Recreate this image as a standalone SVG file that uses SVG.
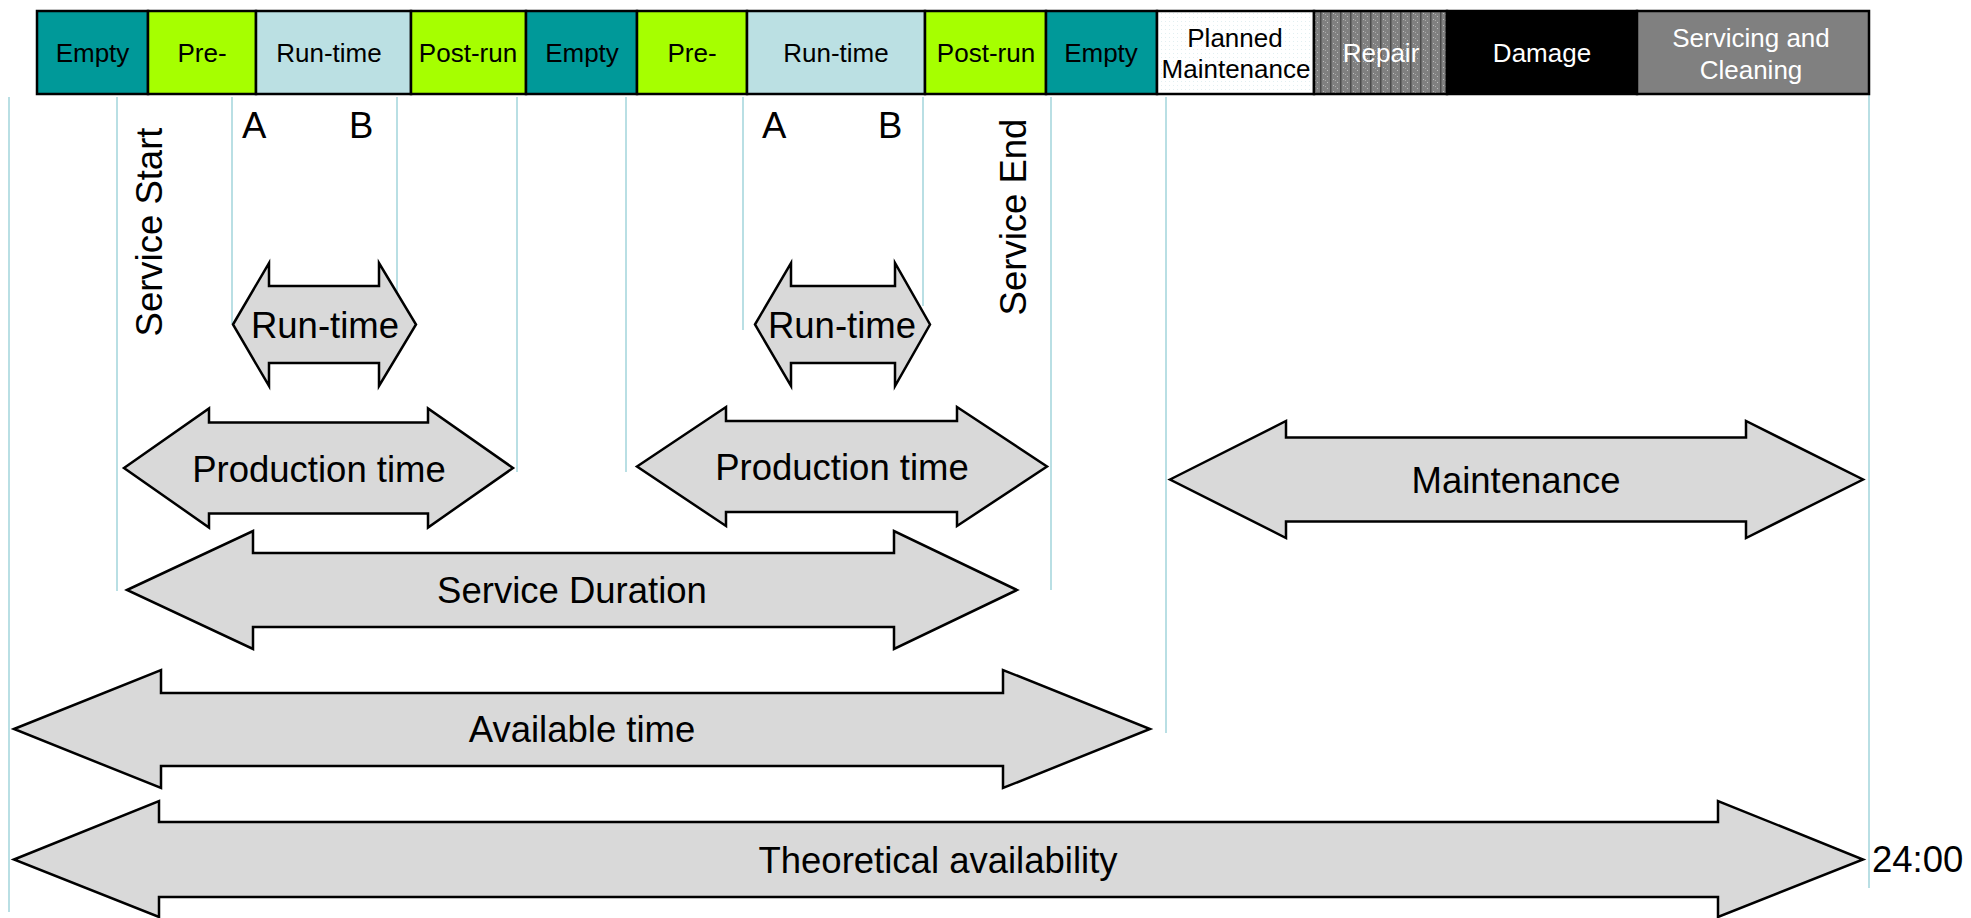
<svg xmlns="http://www.w3.org/2000/svg" width="1971" height="918" viewBox="0 0 1971 918">
<style>
  .seg { stroke: #000; stroke-width: 2.5; }
  .bt { font-family: "Liberation Sans", Arial, sans-serif; font-size: 26px; text-anchor: middle; fill: #000; }
  .wt { fill: #fff; }
  .arr { fill: #d9d9d9; stroke: #000; stroke-width: 2.5; stroke-linejoin: miter; }
  .at { font-family: "Liberation Sans", Arial, sans-serif; font-size: 36.5px; text-anchor: middle; fill: #000; }
  .lt { font-family: "Liberation Sans", Arial, sans-serif; font-size: 36.5px; fill: #000; }
  .gl { stroke: #b9dfe4; stroke-width: 2; fill: none; }
</style>
<defs>
  <pattern id="pRepair" width="10" height="6" patternUnits="userSpaceOnUse">
    <rect width="10" height="6" fill="#808080"/>
    <rect x="0" y="0" width="1.5" height="6" fill="#4a4a4a"/>
    <rect x="3" y="1" width="1" height="1" fill="#c0c0c0"/>
    <rect x="7" y="4" width="1" height="1" fill="#c0c0c0"/>
    <rect x="5" y="2" width="1" height="1" fill="#a8a8a8"/>
  </pattern>
  <pattern id="pPlanned" width="4" height="4" patternUnits="userSpaceOnUse">
    <rect width="4" height="4" fill="#ffffff"/>
    <rect x="1" y="1" width="1" height="1" fill="#e2eff1"/>
  </pattern>
</defs>
<rect width="1971" height="918" fill="#ffffff"/>

<g id="connectors">
  <line class="gl" x1="9" y1="97" x2="9" y2="912"/>
  <line class="gl" x1="117" y1="97" x2="117" y2="591"/>
  <line class="gl" x1="232" y1="97" x2="232" y2="324"/>
  <line class="gl" x1="397" y1="97" x2="397" y2="292"/>
  <line class="gl" x1="517" y1="97" x2="517" y2="472"/>
  <line class="gl" x1="626" y1="97" x2="626" y2="472"/>
  <line class="gl" x1="743" y1="97" x2="743" y2="330"/>
  <line class="gl" x1="923" y1="97" x2="923" y2="306"/>
  <line class="gl" x1="1051" y1="97" x2="1051" y2="590"/>
  <line class="gl" x1="1166" y1="97" x2="1166" y2="733"/>
  <line class="gl" x1="1869" y1="94" x2="1869" y2="888"/>
</g>

<g id="bar-empty-1"><rect class="seg" x="37" y="11" width="111" height="83" fill="#009999"/><text class="bt" x="92.5" y="62">Empty</text></g>
<g id="bar-pre-1"><rect class="seg" x="148" y="11" width="108" height="83" fill="#a6ff00"/><text class="bt" x="202" y="62">Pre-</text></g>
<g id="bar-run-1"><rect class="seg" x="256" y="11" width="155" height="83" fill="#bbe0e3"/><text class="bt" x="329" y="62">Run-time</text></g>
<g id="bar-post-1"><rect class="seg" x="411" y="11" width="115" height="83" fill="#a6ff00"/><text class="bt" x="468" y="62">Post-run</text></g>
<g id="bar-empty-2"><rect class="seg" x="526" y="11" width="111" height="83" fill="#009999"/><text class="bt" x="582" y="62">Empty</text></g>
<g id="bar-pre-2"><rect class="seg" x="637" y="11" width="110" height="83" fill="#a6ff00"/><text class="bt" x="692" y="62">Pre-</text></g>
<g id="bar-run-2"><rect class="seg" x="747" y="11" width="178" height="83" fill="#bbe0e3"/><text class="bt" x="836" y="62">Run-time</text></g>
<g id="bar-post-2"><rect class="seg" x="925" y="11" width="121" height="83" fill="#a6ff00"/><text class="bt" x="986" y="62">Post-run</text></g>
<g id="bar-empty-3"><rect class="seg" x="1046" y="11" width="111" height="83" fill="#009999"/><text class="bt" x="1101" y="62">Empty</text></g>
<g id="bar-planned"><rect class="seg" x="1157" y="11" width="157" height="83" fill="url(#pPlanned)"/><text class="bt" x="1235" y="47">Planned</text><text class="bt" x="1236" y="78">Maintenance</text></g>
<g id="bar-repair"><rect class="seg" x="1314" y="11" width="133" height="83" fill="url(#pRepair)"/><text class="bt wt" x="1381" y="62">Repair</text></g>
<g id="bar-damage"><rect class="seg" x="1447" y="11" width="190" height="83" fill="#000000"/><text class="bt wt" x="1542" y="62">Damage</text></g>
<g id="bar-servicing"><rect class="seg" x="1637" y="11" width="232" height="83" fill="#808080" stroke-width="1.5"/><text class="bt wt" x="1751" y="47">Servicing and</text><text class="bt wt" x="1751" y="79">Cleaning</text></g>

<g id="label-service-start"><text class="lt" text-anchor="middle" transform="translate(162 232) rotate(-90)">Service Start</text></g>
<g id="label-service-end"><text class="lt" text-anchor="middle" transform="translate(1026 217) rotate(-90)">Service End</text></g>
<g id="label-a1"><text class="lt" x="242" y="138">A</text></g>
<g id="label-b1"><text class="lt" x="349" y="138">B</text></g>
<g id="label-a2"><text class="lt" x="762" y="138">A</text></g>
<g id="label-b2"><text class="lt" x="878" y="138">B</text></g>

<g id="arrow-runtime-1">
  <polygon class="arr" points="233,324.5 269,263 269,286 379,286 379,263 416,324.5 379,386 379,363 269,363 269,386"/>
  <text class="at" x="325" y="338">Run-time</text>
</g>
<g id="arrow-runtime-2">
  <polygon class="arr" points="755,324.5 791,263 791,286 895,286 895,263 930,324.5 895,386 895,363 791,363 791,386"/>
  <text class="at" x="842" y="338">Run-time</text>
</g>
<g id="arrow-production-1">
  <polygon class="arr" points="124,468 209,408.5 209,422.5 428,422.5 428,408.5 513,468 428,527.5 428,513.5 209,513.5 209,527.5"/>
  <text class="at" x="319" y="482">Production time</text>
</g>
<g id="arrow-production-2">
  <polygon class="arr" points="637,466.5 726,407 726,421 957,421 957,407 1047,466.5 957,526 957,512 726,512 726,526"/>
  <text class="at" x="842" y="480">Production time</text>
</g>
<g id="arrow-service-duration">
  <polygon class="arr" points="127,590 253,531 253,553 894,553 894,531 1017,590 894,649 894,627 253,627 253,649"/>
  <text class="at" x="572" y="603">Service Duration</text>
</g>
<g id="arrow-maintenance">
  <polygon class="arr" points="1170,479.5 1286,421 1286,437.5 1746,437.5 1746,421 1863,479.5 1746,538 1746,521.5 1286,521.5 1286,538"/>
  <text class="at" x="1516" y="493">Maintenance</text>
</g>
<g id="arrow-available">
  <polygon class="arr" points="14,729 161,670 161,693 1003,693 1003,670 1150,729 1003,788 1003,766 161,766 161,788"/>
  <text class="at" x="582" y="742">Available time</text>
</g>
<g id="arrow-theoretical">
  <polygon class="arr" points="14,859.5 159,801 159,822 1718,822 1718,801 1863,859.5 1718,917 1718,897 159,897 159,917"/>
  <text class="at" x="938" y="873">Theoretical availability</text>
</g>
<g id="label-2400"><text class="lt" x="1872" y="872">24:00</text></g>
</svg>
